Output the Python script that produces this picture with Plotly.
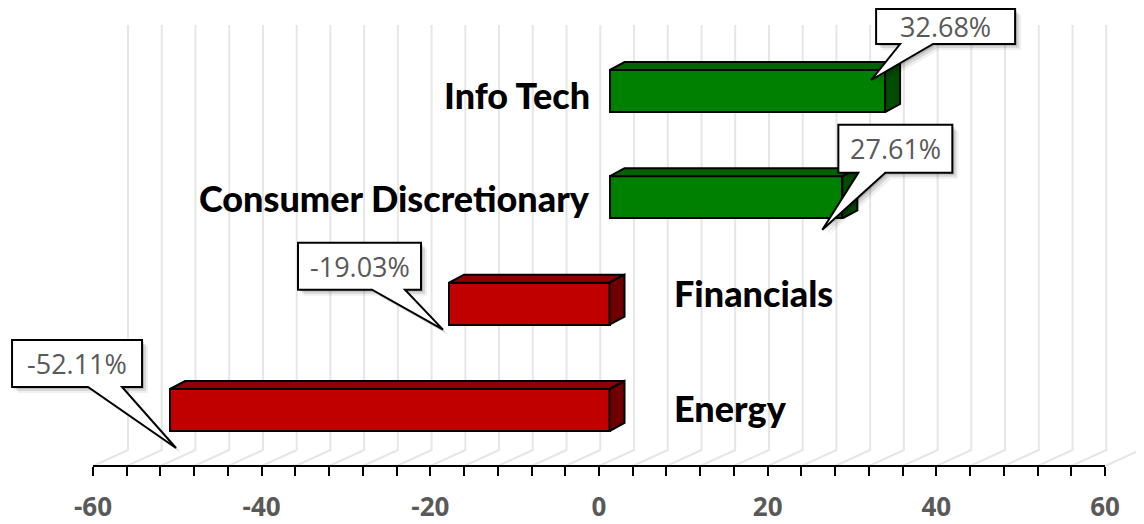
import plotly.graph_objects as go

# ---------------- data ----------------
categories = ["Energy", "Financials", "Consumer Discretionary", "Info Tech"]
values = [-52.11, -19.03, 27.61, 32.68]
value_labels = ["-52.11%", "-19.03%", "27.61%", "32.68%"]
x_tick_vals = [-60, -40, -20, 0, 20, 40, 60]
x_tick_text = ["-60", "-40", "-20", "0", "20", "40", "60"]
x_minor_vals = list(range(-60, 61, 4))

# ---------------- layout constants ----------------
BODY = 8                      # default page margin of the html body
W, H = 1144 - BODY, 524 - 4
PX_X = 1012 / 120.0           # pixels per x unit
PX_Y = 106.33                 # pixels per category step
ZERO_PX, ROW0_PX = 599 - BODY, 410 - BODY
x_range = [(0 - ZERO_PX) / PX_X, (W - ZERO_PX) / PX_X]
y_range = [(ROW0_PX - H) / PX_Y, (ROW0_PX - 0) / PX_Y]
AXIS_PX = 466 - BODY
axis_pos = (H - AXIS_PX) / H
y_axis = (ROW0_PX - AXIS_PX) / PX_Y
y_back_floor = (ROW0_PX - (450 - BODY)) / PX_Y
y_top = (ROW0_PX - (25 - BODY)) / PX_Y
BACK_DX = 35 / PX_X

SHIFT = 10.5 / PX_X           # bars sit a bit into the depth
BAR_H = 42 / PX_Y
DX, DY = 15 / PX_X, 8 / PX_Y  # 3D depth of bar

pos = list(range(len(categories)))

front_col = ["#c00000" if v < 0 else "#008000" for v in values]
top_col = ["#900000" if v < 0 else "#006300" for v in values]
side_col = ["#700000" if v < 0 else "#004d00" for v in values]

fig = go.Figure()

# back wall / floor gridlines (shapes below the traces)
for t in x_minor_vals:
    fig.add_shape(type="path", xref="x", yref="y", layer="below",
                  path=f"M{t},{y_axis} L{t + BACK_DX},{y_back_floor} L{t + BACK_DX},{y_top}",
                  line=dict(color="#e6e6e6", width=2))

# front faces
fig.add_trace(go.Bar(
    y=pos, x=values, base=SHIFT, orientation="h", width=BAR_H,
    marker=dict(color=front_col, line=dict(color="black", width=2)),
    hoverinfo="skip", showlegend=False))

# 3D faces
for i, v in enumerate(values):
    x0 = SHIFT + min(v, 0)
    x1 = SHIFT + max(v, 0)
    yt = pos[i] + BAR_H / 2
    yb = pos[i] - BAR_H / 2
    fig.add_trace(go.Scatter(
        x=[x0, x1, x1 + DX, x0 + DX, x0], y=[yt, yt, yt + DY, yt + DY, yt],
        mode="lines", fill="toself", fillcolor=top_col[i],
        line=dict(color="black", width=2), hoverinfo="skip", showlegend=False))
    fig.add_trace(go.Scatter(
        x=[x1, x1, x1 + DX, x1 + DX, x1], y=[yb, yt, yt + DY, yb + DY, yb],
        mode="lines", fill="toself", fillcolor=side_col[i],
        line=dict(color="black", width=2), hoverinfo="skip", showlegend=False))

# axis line from -60 to 60
fig.add_shape(type="line", xref="x", yref="paper", x0=x_tick_vals[0], x1=x_tick_vals[-1],
              y0=axis_pos, y1=axis_pos, line=dict(color="black", width=2), layer="above")

# category labels
label_side = ["left" if v < 0 else "right" for v in values]
label_xshift = [73 if v < 0 else -7 for v in values]
label_yshift = [2, 10.5, -1, -3.5]
for i, c in enumerate(categories):
    fig.add_annotation(x=0, y=pos[i], text=c, showarrow=False,
                       xanchor=label_side[i], xshift=label_xshift[i], yshift=label_yshift[i],
                       font=dict(family="Lato", size=36, color="black", weight=900))

# callouts: (box x0, box x1, box bottom, box top, tail left, tail right, tip x, tip y) in px
callout_geom = [
    (-158, -28, 23, 70, -82, -48, 6, -38),
    (-151, -28, 14, 61, -77, -44, -6, -26),
    (-4, 110, 24.5, 72.5, 16, 43, -20, -32.5),
    (-9, 130, 47, 82, 15, 48, -14, 11),
]


def callout_path(g, ox=0, oy=0):
    bx0, bx1, by0, by1, tl, tr, tx, ty = g
    pts = [(bx0, by1), (bx1, by1), (bx1, by0), (tr, by0), (tx, ty), (tl, by0), (bx0, by0)]
    return "M" + " L".join(f"{px + ox},{py + oy}" for px, py in pts) + " Z"


for i, v in enumerate(values):
    g = callout_geom[i]
    ax_x = SHIFT + v
    for off, col in [(6, "rgba(0,0,0,0.06)"), (4, "rgba(0,0,0,0.10)"), (2, "rgba(0,0,0,0.14)")]:
        fig.add_shape(type="path", xref="x", yref="y", xsizemode="pixel", ysizemode="pixel",
                      xanchor=ax_x, yanchor=pos[i], path=callout_path(g, off, -off),
                      fillcolor=col, line=dict(width=0), layer="above")
    fig.add_shape(type="path", xref="x", yref="y", xsizemode="pixel", ysizemode="pixel",
                  xanchor=ax_x, yanchor=pos[i], path=callout_path(g),
                  fillcolor="white", line=dict(color="black", width=2), layer="above")
    fig.add_annotation(x=ax_x, y=pos[i], text=value_labels[i], showarrow=False,
                       xshift=(g[0] + g[1]) / 2, yshift=(g[2] + g[3]) / 2,
                       font=dict(family="Open Sans", size=27, color="#595959"))

fig.update_layout(
    width=W, height=H, margin=dict(l=0, r=0, t=0, b=0, pad=0),
    paper_bgcolor="white", plot_bgcolor="white", bargap=0,
    xaxis=dict(range=x_range, domain=[0, 1], anchor="free", position=axis_pos,
               automargin=False,
               showgrid=False, zeroline=False, showline=False,
               tickvals=x_tick_vals, ticktext=x_tick_text, ticks="outside",
               ticklen=9, tickwidth=2, tickcolor="black", ticklabelstandoff=9,
               minor=dict(tickvals=x_minor_vals, ticks="outside", ticklen=9,
                          tickwidth=2, tickcolor="black", showgrid=False),
               tickfont=dict(family="Open Sans", size=26, color="#595959", weight="bold")),
    xaxis2=dict(range=x_range, overlaying="x", anchor="free", position=axis_pos,
                automargin=False,
                showgrid=False, zeroline=False, showline=False, showticklabels=False,
                tickvals=x_tick_vals, ticks="inside", ticklen=8, tickwidth=2, tickcolor="black",
                minor=dict(tickvals=x_minor_vals, ticks="inside", ticklen=8,
                           tickwidth=2, tickcolor="black", showgrid=False)),
    yaxis=dict(range=y_range, domain=[0, 1], visible=False, showgrid=False,
               zeroline=False, automargin=False),
)

fig.write_html("out.html")
